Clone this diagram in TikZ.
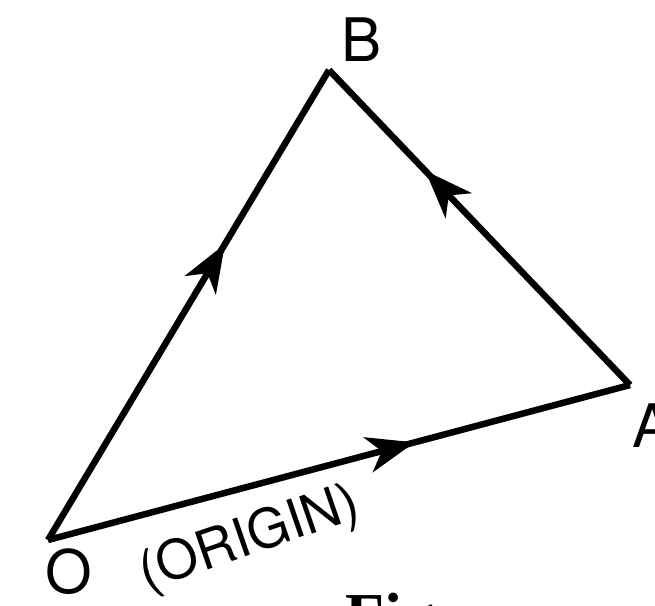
\documentclass[tikz,border=0pt]{standalone}
\usepackage{fontspec}
\setmainfont{TeX Gyre Heros}
\newfontfamily\figfont{Liberation Serif}
\usetikzlibrary{arrows.meta,decorations.markings}
\begin{document}
\begin{tikzpicture}[x=1pt,y=-1pt,
  side/.style={line width=6.5pt, line join=miter},
  arr/.style={postaction={decorate,decoration={markings,
     mark=at position #1 with {\arrow{Stealth[length=48pt,width=36pt,inset=14pt]}}}}},
  lbl/.style={font=\fontsize{60}{62}\selectfont, inner sep=0pt}]
\useasboundingbox (0,0) rectangle (655,605);
\coordinate (O) at (48,540);
\coordinate (A) at (630,385);
\coordinate (B) at (329,70);
\draw[side,arr=0.63] (O) -- (B);
\draw[side,arr=0.68] (A) -- (B);
\draw[side,arr=0.63] (O) -- (A);
\node[lbl] (lB) at (362,40) {B};
\node[lbl] (lO) at (69,572) {O};
\node[lbl, anchor=west] (lA) at (632,426) {A};
\node[font=\fontsize{54}{56}\selectfont, inner sep=0pt, rotate=19] (orig) at (250,540) {(ORIGIN)};
\node[font=\figfont\bfseries\fontsize{64}{66}\selectfont, inner sep=0pt, anchor=north west] (fig) at (345,593) {Fig};
\end{tikzpicture}
\end{document}
